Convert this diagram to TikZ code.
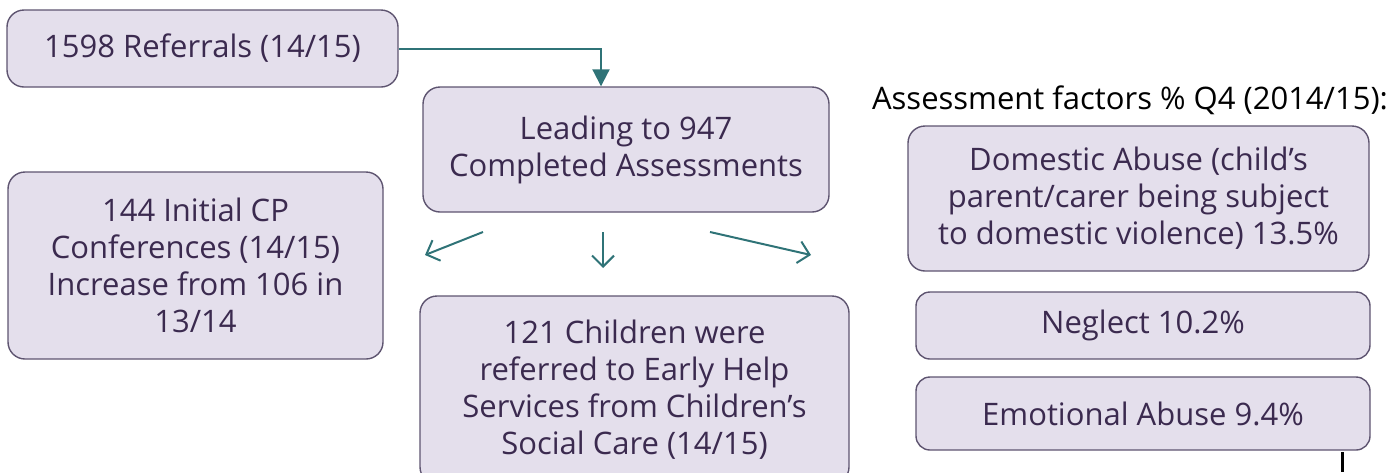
\documentclass[tikz,border=0pt]{standalone}
\usepackage{fontspec}
\setmainfont{Open Sans}
\usetikzlibrary{arrows.meta}
\definecolor{boxfill}{HTML}{E4DFEC}
\definecolor{boxline}{HTML}{5E5470}
\definecolor{boxtext}{HTML}{3B2A4F}
\definecolor{teal}{HTML}{2F7377}
\begin{document}
\begin{tikzpicture}[x=1pt, y=-1pt,
    card/.style={draw=boxline, fill=boxfill, line width=1.4pt, rounded corners=17pt,
      text=boxtext, align=center, inner sep=0pt, font=\fontsize{31}{37}\selectfont},
    feed/.style={teal, line width=2pt, -{Triangle[length=17pt,width=17pt]}},
    fan/.style={teal, line width=2pt, -{Straight Barb[length=11pt,width=22pt]}}]
      \clip (0,0) rectangle (1386,472);
      \node[card, minimum width=391pt, minimum height=77pt] (ref) at (202.5,48.5) {1598 Referrals (14/15)};
      \node[card, minimum width=406pt, minimum height=125pt] (assess) at (626,149.5) {Leading to 947\\Completed Assessments};
      \node[card, minimum width=375pt, minimum height=187pt] (conf) at (195.5,265.5) {144 Initial CP\\Conferences (14/15)\\Increase from 106 in\\13/14};
      \node[card, minimum width=429pt, minimum height=188pt] (early) at (634.5,390) {121 Children were\\referred to Early Help\\Services from Children’s\\Social Care (14/15)};
      \node[font=\fontsize{31}{37}\selectfont] (title) at (1130,100) {Assessment factors \% Q4 (2014/15):};
      \node[card, minimum width=461pt, minimum height=145pt] (dom) at (1138.5,198.5) {Domestic Abuse (child’s\\parent/carer being subject\\to domestic violence) 13.5\%};
      \node[card, rounded corners=14pt, minimum width=454pt, minimum height=67pt] (negl) at (1143,325.5) {Neglect 10.2\%};
      \node[card, rounded corners=14pt, minimum width=454pt, minimum height=73pt] (emo) at (1143,413.5) {Emotional Abuse 9.4\%};
      % referral line into the assessments box
      \draw[feed] (ref.east) -| ([xshift=-25pt]assess.north);
      % the three outcomes
      \coordinate (l0) at (483,232); \coordinate (l1) at (425,255);
      \coordinate (m0) at (603,232); \coordinate (m1) at (603,268);
      \coordinate (r0) at (710,232); \coordinate (r1) at (811,255);
      \draw[fan] (l0) -- (l1);
      \draw[fan] (m0) -- (m1);
      \draw[fan] (r0) -- (r1);
      \draw[line width=3pt] (1342,452) -- (1342,472);
\end{tikzpicture}
\end{document}
